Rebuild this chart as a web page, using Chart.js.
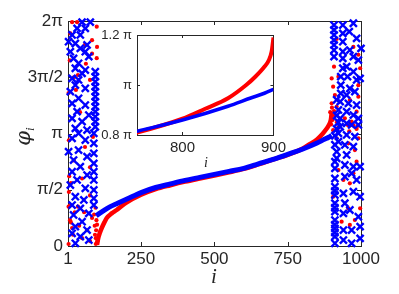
<!DOCTYPE html>
<html>
<head>
<meta charset="utf-8">
<script src="https://cdn.jsdelivr.net/npm/chart.js@4"></script>
<style>
  html, body { margin: 0; padding: 0; background: #fff; }
  #wrap { position: relative; width: 399px; height: 294px; }
  #mainChart { position: absolute; left: 0; top: 0; }
  #insetChart { position: absolute; left: 90px; top: 20px; }
</style>
</head>
<body>
<div id="wrap">
  <canvas id="mainChart" width="399" height="294"></canvas>
  <canvas id="insetChart" width="200" height="155"></canvas>
</div>
<script>
// values are in units of pi
const xTicks = [1, 250, 500, 750, 1000];
const yTicks = [0, 0.5, 1, 1.5, 2];
const yTickLabels = ['0', 'π/2', 'π', '3π/2', '2π'];
const insetXTicks = [750, 800, 900];
const insetXLabels = ['', '800', '900'];
const insetYTicks = [0.8, 1, 1.2];
const insetYLabels = ['0.8 π', 'π', '1.2 π'];

// locked part, sorted
const blueCurveI = [97, 120, 145, 170, 200, 250, 300, 350, 400, 450, 500, 550, 600, 650, 700, 750, 800, 850, 875, 890, 900];
const blueCurveV = [0.27, 0.31, 0.35, 0.38, 0.415, 0.475, 0.52, 0.552, 0.583, 0.61, 0.637, 0.663, 0.69, 0.73, 0.77, 0.815, 0.86, 0.915, 0.948, 0.967, 0.983];
const redCurveI = [100, 104, 110, 116, 125, 133, 150, 167, 200, 250, 300, 350, 400, 450, 500, 550, 600, 650, 700, 750, 800, 825, 850, 870, 880, 890, 895, 898, 900];
const redCurveV = [0.01, 0.068, 0.12, 0.16, 0.21, 0.249, 0.29, 0.32, 0.385, 0.455, 0.505, 0.54, 0.572, 0.6, 0.627, 0.655, 0.685, 0.725, 0.768, 0.81, 0.865, 0.905, 0.947, 1.0, 1.033, 1.073, 1.1, 1.135, 1.19];

// drifting oscillators, [i, phase]
const blueLeft = [[49,1.99],[77,1.99],[32,1.935],[60,1.935],[15,1.876],[43,1.876],[3,1.816],[26,1.80],[66,1.787],[43,1.757],[9,1.727],[60,1.727],[72,1.683],[20,1.668],[37,1.624],[26,1.58],[94,1.549],[60,1.564],[49,1.535],[94,1.505],[15,1.49],[37,1.476],[94,1.46],[26,1.431],[94,1.416],[60,1.402],[94,1.372],[9,1.372],[94,1.327],[37,1.313],[94,1.283],[15,1.268],[60,1.253],[94,1.238],[94,1.194],[32,1.194],[72,1.164],[94,1.149],[15,1.135],[49,1.105],[94,1.105],[94,1.06],[26,1.046],[66,1.031],[37,1.002],[89,1.002],[15,0.957],[60,0.942],[89,0.913],[3,0.838],[37,0.853],[89,0.824],[66,0.794],[20,0.764],[89,0.735],[43,0.705],[15,0.66],[89,0.66],[66,0.631],[32,0.587],[89,0.587],[9,0.542],[60,0.513],[89,0.498],[26,0.438],[89,0.424],[55,0.409],[15,0.364],[89,0.364],[43,0.335],[72,0.29],[20,0.276],[49,0.216],[26,0.172],[66,0.142],[15,0.113],[43,0.083],[72,0.053],[26,0.024]];
const redLeft = [[15,1.99],[32,1.99],[99,1.95],[9,1.89],[83,1.83],[59,1.79],[100,1.77],[83,1.71],[7,1.65],[99,1.67],[62,1.62],[35,1.52],[21,1.50],[76,1.476],[28,1.387],[3,1.36],[42,1.19],[86,0.97],[4,0.94],[59,0.88],[21,0.76],[76,0.70],[11,0.56],[49,0.60],[4,0.48],[76,0.45],[8,0.36],[35,0.35],[56,0.30],[83,0.25],[11,0.21],[39,0.18],[66,0.14],[18,0.10],[49,0.07],[76,0.044],[3,0.018],[96,0.018],[99,0.027],[93,0.10],[100,0.19],[90,0.28],[97,0.14],[95,0.34],[102,0.05],[98,0.23],[92,0.18],[96,0.07],[3,0.35],[8,0.23],[15,0.16],[5,0.62],[24,0.30]];
const blueRight = [[908,1.964],[938,1.964],[974,1.98],[908,1.92],[908,1.876],[938,1.89],[960,1.905],[985,1.846],[908,1.83],[908,1.787],[938,1.816],[1000,1.757],[908,1.742],[938,1.727],[962,1.742],[908,1.683],[938,1.668],[974,1.683],[991,1.653],[938,1.58],[951,1.594],[974,1.549],[997,1.49],[931,1.505],[954,1.505],[985,1.476],[931,1.43],[962,1.40],[979,1.372],[931,1.357],[951,1.342],[929,1.283],[957,1.268],[985,1.253],[923,1.209],[951,1.194],[974,1.164],[991,1.135],[929,1.135],[951,1.09],[968,1.076],[929,1.06],[991,1.076],[923,1.002],[951,0.987],[979,0.972],[923,0.927],[945,0.898],[974,0.883],[917,0.838],[951,0.809],[997,0.705],[917,0.78],[945,0.72],[974,0.705],[911,0.69],[985,0.587],[911,0.60],[945,0.616],[968,0.646],[911,0.527],[940,0.468],[974,0.483],[997,0.438],[911,0.453],[911,0.38],[945,0.38],[962,0.32],[911,0.305],[940,0.29],[991,0.26],[911,0.231],[911,0.157],[940,0.142],[968,0.142],[997,0.172],[911,0.083],[940,0.053],[968,0.024],[911,0.024],[997,0.068],[911,0.98],[911,0.90],[911,0.75],[911,0.49],[911,0.34],[911,0.19],[911,0.12],[917,1.30],[917,1.16],[923,1.10],[917,1.04]];
const redRight = [[917,1.84],[974,1.77],[991,1.70],[908,1.594],[997,1.58],[900,1.49],[923,1.505],[991,1.43],[905,1.416],[911,1.342],[991,1.327],[900,1.268],[962,1.298],[917,1.238],[985,1.194],[968,1.105],[945,1.135],[917,0.957],[957,0.913],[991,0.957],[940,0.587],[962,0.557],[974,0.646],[997,0.438],[905,0.438],[957,0.335],[934,0.216],[962,0.187],[979,0.231],[997,0.335],[923,0.675],[985,0.75],[979,0.853],[901,1.23],[911,1.16],[898,1.08],[918,1.10],[905,1.03],[922,1.05],[895,1.19],[903,1.12],[908,1.20],[960,1.02],[985,1.04],[955,1.075],[965,1.075],[975,1.07],[990,1.07]];

const BLUE = '#0000ff';
const RED = '#ff0000';
const AXIS = '#262626';

const toPts = (xs, ys) => xs.map((x, k) => ({ x: x, y: ys[k] }));
const pairs = arr => arr.map(p => ({ x: p[0], y: p[1] }));

// box round the axes with the ticks pointing inwards
const boxTicks = {
    id: 'boxTicks',
    beforeDraw(chart, args, opts) {
        const a = chart.chartArea;
        if (opts.fill) {
            chart.ctx.save();
            chart.ctx.fillStyle = '#fff';
            chart.ctx.fillRect(a.left, a.top, a.right - a.left, a.bottom - a.top);
            chart.ctx.restore();
        }
    },
    beforeDatasetsDraw(chart, args, opts) {
        const { ctx, chartArea: a, scales: { x, y } } = chart;
        const len = opts.tickLen || 4;
        ctx.save();
        ctx.strokeStyle = AXIS;
        ctx.lineWidth = 1;
        ctx.strokeRect(Math.round(a.left) + 0.5, Math.round(a.top) + 0.5,
            Math.round(a.right - a.left), Math.round(a.bottom - a.top));
        ctx.beginPath();
        x.ticks.forEach(t => {
            const px = Math.round(x.getPixelForValue(t.value)) + 0.5;
            ctx.moveTo(px, a.bottom); ctx.lineTo(px, a.bottom - len);
            ctx.moveTo(px, a.top); ctx.lineTo(px, a.top + len);
        });
        y.ticks.forEach(t => {
            const py = Math.round(y.getPixelForValue(t.value)) + 0.5;
            ctx.moveTo(a.left, py); ctx.lineTo(a.left + len, py);
            ctx.moveTo(a.right, py); ctx.lineTo(a.right - len, py);
        });
        ctx.stroke();
        ctx.restore();
    }
};

// axis titles (phi with subscript i)
const axisText = {
    id: 'axisText',
    afterDraw(chart, args, opts) {
        const ctx = chart.ctx;
        ctx.save();
        ctx.fillStyle = AXIS;
        ctx.textBaseline = 'middle';
        if (opts.xLabel) {
            ctx.textAlign = 'center';
            ctx.font = opts.xFont;
            ctx.fillText(opts.xLabel, opts.xPos[0], opts.xPos[1]);
        }
        if (opts.yLabel) {
            ctx.translate(opts.yPos[0], opts.yPos[1]);
            ctx.rotate(-Math.PI / 2);
            ctx.font = opts.yFont;
            ctx.textAlign = 'right';
            ctx.fillText(opts.yLabel, 3, 0);
            ctx.font = opts.ySubFont;
            ctx.textAlign = 'left';
            ctx.fillText(opts.ySub, 3, 6);
        }
        ctx.restore();
    }
};

const crossStyle = {
    showLine: false, pointStyle: 'crossRot', pointRadius: 5, borderWidth: 2.4,
    borderColor: BLUE, backgroundColor: BLUE, clip: false
};
const dotStyle = {
    showLine: false, pointStyle: 'circle', pointRadius: 2.1, borderWidth: 0,
    borderColor: RED, backgroundColor: RED, clip: false
};

new Chart(document.getElementById('mainChart').getContext('2d'), {
    type: 'scatter',
    data: {
        datasets: [
            { data: toPts(blueCurveI, blueCurveV), showLine: true, borderColor: BLUE, borderWidth: 5,
              pointRadius: 0, cubicInterpolationMode: 'monotone' },
            Object.assign({ data: pairs(blueLeft) }, crossStyle),
            Object.assign({ data: pairs(blueRight) }, crossStyle),
            { data: toPts(redCurveI, redCurveV), showLine: true, borderColor: RED, borderWidth: 4.5,
              pointRadius: 0, cubicInterpolationMode: 'monotone' },
            Object.assign({ data: pairs(redLeft) }, dotStyle),
            Object.assign({ data: pairs(redRight) }, dotStyle)
        ]
    },
    options: {
        responsive: false,
        animation: false,
        layout: { padding: { top: 21, right: 38, left: 0, bottom: 0 } },
        plugins: {
            legend: { display: false },
            tooltip: { enabled: false },
            boxTicks: { tickLen: 4 },
            axisText: {
                xLabel: 'i', xFont: 'italic 21px "Liberation Serif"', xPos: [214, 277],
                yLabel: 'φ', yFont: 'italic 21px "DejaVu Serif"', ySub: 'i',
                ySubFont: 'italic 13px "Liberation Serif"', yPos: [25, 134]
            }
        },
        scales: {
            x: {
                type: 'linear', min: 1, max: 1000,
                afterBuildTicks: s => { s.ticks = xTicks.map(v => ({ value: v })); },
                afterFit: s => { s.height = 48; },
                grid: { display: false, drawTicks: false }, border: { display: false },
                ticks: { autoSkip: false, maxRotation: 0, padding: 3, color: AXIS,
                         font: { family: 'Liberation Sans', size: 17 }, callback: v => String(v) }
            },
            y: {
                type: 'linear', min: 0, max: 2,
                afterBuildTicks: s => { s.ticks = yTicks.map(v => ({ value: v })); },
                afterFit: s => { s.width = 68; },
                grid: { display: false, drawTicks: false }, border: { display: false },
                ticks: { autoSkip: false, padding: 5, color: AXIS,
                         font: { family: 'Liberation Sans', size: 17 },
                         callback: v => yTickLabels[yTicks.indexOf(v)] }
            }
        }
    },
    plugins: [boxTicks, axisText]
});

new Chart(document.getElementById('insetChart').getContext('2d'), {
    type: 'scatter',
    data: {
        datasets: [
            { data: toPts(blueCurveI, blueCurveV), showLine: true, borderColor: BLUE, borderWidth: 3.5,
              pointRadius: 0, cubicInterpolationMode: 'monotone' },
            { data: toPts(redCurveI, redCurveV), showLine: true, borderColor: RED, borderWidth: 4,
              pointRadius: 0, cubicInterpolationMode: 'monotone' }
        ]
    },
    options: {
        responsive: false,
        animation: false,
        layout: { padding: { top: 15, right: 12.5, left: 0, bottom: 0 } },
        plugins: {
            legend: { display: false },
            tooltip: { enabled: false },
            boxTicks: { tickLen: 3, fill: true },
            axisText: { xLabel: 'i', xFont: 'italic 14px "Liberation Serif"', xPos: [116, 143] }
        },
        scales: {
            x: {
                type: 'linear', min: 750, max: 900,
                afterBuildTicks: s => { s.ticks = insetXTicks.map(v => ({ value: v })); },
                afterFit: s => { s.height = 40; },
                grid: { display: false, drawTicks: false }, border: { display: false },
                ticks: { autoSkip: false, maxRotation: 0, padding: 4, color: AXIS,
                         font: { family: 'Liberation Sans', size: 15 },
                         callback: v => insetXLabels[insetXTicks.indexOf(v)] }
            },
            y: {
                type: 'linear', min: 0.8, max: 1.2,
                afterBuildTicks: s => { s.ticks = insetYTicks.map(v => ({ value: v })); },
                afterFit: s => { s.width = 47; },
                grid: { display: false, drawTicks: false }, border: { display: false },
                ticks: { autoSkip: false, padding: 5, color: AXIS,
                         font: { family: 'Liberation Sans', size: 13 },
                         callback: v => insetYLabels[insetYTicks.indexOf(v)] }
            }
        }
    },
    plugins: [boxTicks, axisText]
});
</script>
</body>
</html>
